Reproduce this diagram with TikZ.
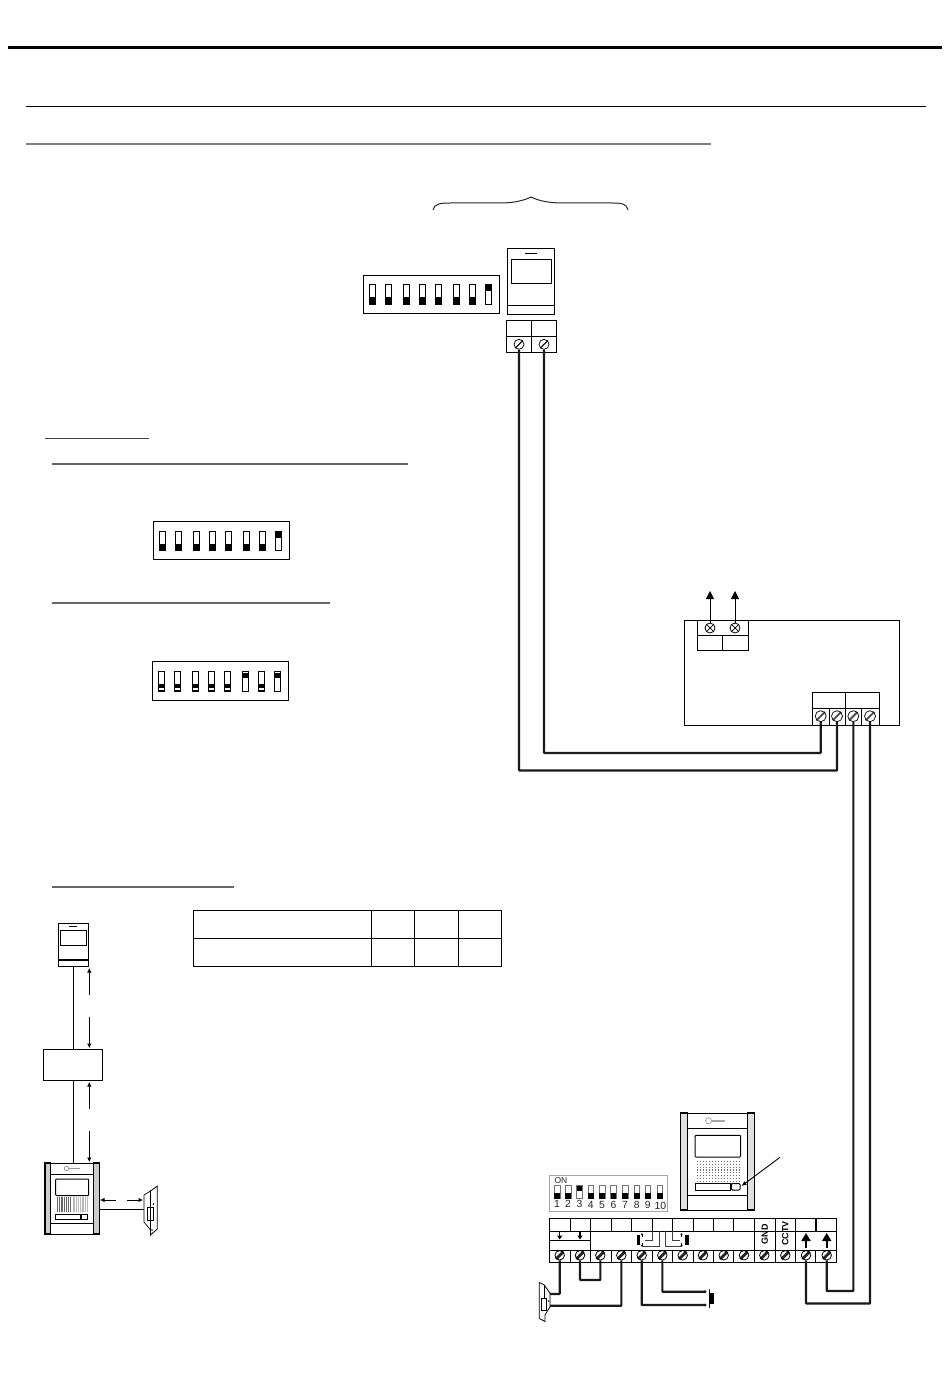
\documentclass[tikz,border=0pt]{standalone}
\usepackage{fontspec}
\setmainfont{Liberation Sans}
\setsansfont{Liberation Sans}
\usetikzlibrary{arrows.meta,calc}
\tikzset{
  wire/.style={line width=2.1pt,black!90,rounded corners=0.5pt},
  thin box/.style={draw,line width=1pt},
  rule/.style={line width=1pt,black!75},
  flow/.style={line width=0.8pt,-{Latex[length=4.5pt,width=4.5pt]}},
  big arrow/.style={line width=1.8pt,-{Triangle[length=8pt,width=9pt]}},
  screwa/.style={circle,draw,line width=0.7pt,minimum size=10pt,inner sep=0pt,
    append after command={\pgfextra{\draw[line width=1pt] (\tikzlastnode.south west)--(\tikzlastnode.north east);}}},
  screwb/.style={circle,draw,line width=0.8pt,minimum size=10pt,inner sep=0pt,
    append after command={\pgfextra{\draw[line width=.7pt] (\tikzlastnode.south west)--(\tikzlastnode.north east);\draw[line width=.7pt] (\tikzlastnode.south east)--(\tikzlastnode.north west);}}},
  screwc/.style={circle,draw,line width=0.8pt,minimum size=9.5pt,inner sep=0pt,
    append after command={\pgfextra{\draw[line width=2.8pt,black!85] (\tikzlastnode.south west)--(\tikzlastnode.north east);}}},
  screwd/.style={circle,draw,line width=0.7pt,minimum size=11pt,inner sep=0pt,
    append after command={\pgfextra{\draw[line width=1.8pt,black!70] (\tikzlastnode.south west)--(\tikzlastnode.north east);}}},
}
\newcommand{\dipswitch}[5]{% left top switchTop height onlist
  \foreach \dx [count=\i] in {5.7,21.7,39.7,55.7,71.7,89.7,105.7,121.7}{
    \pgfmathsetmacro{\sx}{#1+\dx}
    \draw[line width=.9pt] (\sx,#3) rectangle ++(6.8,#4);
    \def\ison{0}
    \foreach \k in {#5}{\ifnum\k=\i\global\def\ison{1}\fi}
    \ifnum\ison=1
      \fill (\sx,#3) rectangle ++(6.8,7);
    \else
      \fill (\sx,#3+#4) rectangle ++(6.8,-7);
    \fi
  }
}
\begin{document}
\begin{tikzpicture}[x=1pt,y=-1pt,every node/.style={font=\sffamily}]
\useasboundingbox (0,0) rectangle (950,1388);
\fill[white] (0,0) rectangle (950,1388);

% rules
\draw[line width=3pt] (8,48)--(942,48);
\draw[line width=1pt] (26,106.5)--(926,106.5);
\draw[line width=2pt,black!50] (26,144.5)--(711,144.5);
\draw[rule] (45,438.5)--(149,438.5);
\draw[line width=1.6pt,black!60] (52,464)--(408,464);
\draw[line width=1.6pt,black!60] (52,603)--(330,603);
\draw[line width=1.6pt,black!60] (52,887)--(234,887);

% brace
\draw[line width=1pt,black!85] (433,210) .. controls (434,204) and (440,203) .. (450,203)
  -- (500,203) .. controls (515,203) and (525,200) .. (531,197)
  .. controls (537,200) and (547,203) .. (562,203) -- (612,203)
  .. controls (622,203) and (627,204) .. (628,210);

% dip 1
\node[thin box,minimum width=136pt,minimum height=38.5pt,inner sep=0pt] (dipA) at (431,294.5) {};
\dipswitch{363.3}{275}{284}{20}{8}

% monitor
\node[thin box,minimum width=46.5pt,minimum height=65pt,inner sep=0pt] (monA) at (531.2,281.5) {};
\draw[line width=1pt] (511,259) rectangle (551.5,283);
\draw[line width=1pt] (525,253.5)--(537,253.5);
\draw[line width=1.8pt] (508,305.5)--(554.5,305.5);

% terminal block on monitor
\draw[line width=1pt] (506,320) rectangle (556.5,352);
\draw[line width=1pt] (506,336)--(556.5,336) (531.3,320)--(531.3,352);
\node[screwa] (mA) at (519,344.3) {};
\node[screwa] (mB) at (544,344.3) {};

% dip 2 and 3
\node[thin box,minimum width=136pt,minimum height=38pt,inner sep=0pt] (dipB) at (221.3,540) {};
\dipswitch{153.3}{521}{531}{19.5}{8}
\node[thin box,minimum width=136pt,minimum height=38.5pt,inner sep=0pt] (dipC) at (220.3,680.8) {};
\dipswitch{152.3}{662}{671}{20}{6,8}
\foreach \dx in {5.7,21.7,39.7,55.7,71.7,105.7}{
  \fill[white] (152.3+\dx+.6,688.2) rectangle ++(5.6,1.7);}
\foreach \dx in {89.7,121.7}{
  \fill[white] (152.3+\dx+.6,671.6) rectangle ++(5.6,1.2);}

% distributor box
\node[thin box,minimum width=215pt,minimum height=105pt,inner sep=0pt] (dist) at (791.5,672.5) {};
\draw[line width=1pt] (697,620) rectangle (748,650);
\draw[line width=1pt] (697,635)--(748,635) (722.3,635)--(722.3,650);
\node[screwb] (dU) at (710,628) {};
\node[screwb] (dV) at (735,628) {};
\coordinate (dUt) at (710,591);
\coordinate (dVt) at (735,591);
\draw[line width=1pt,-{Triangle[length=8pt,width=8pt]}] (dU.north)--(dUt);
\draw[line width=1pt,-{Triangle[length=8pt,width=8pt]}] (dV.north)--(dVt);
\draw[line width=1pt] (812,692) rectangle (879,725);
\draw[line width=1pt] (812,708)--(879,708) (845.3,692)--(845.3,725) (829,708)--(829,725) (861,708)--(861,725);
\node[screwd] (dA) at (820.7,716.2) {};
\node[screwd] (dB) at (837,716.2) {};
\node[screwd] (dC) at (853.3,716.2) {};
\node[screwd] (dD) at (870,716.2) {};

% table
\draw[line width=1pt] (193,910.5) rectangle (501,966);
\draw[line width=1pt] (193,938)--(501,938) (371,910.5)--(371,966) (414,910.5)--(414,966) (458,910.5)--(458,966);

% small monitor
\node[thin box,minimum width=30.4pt,minimum height=43pt,inner sep=0pt] (monB) at (73.5,944.5) {};
\draw[line width=.9pt] (60.3,930) rectangle (86.7,945);
\draw[line width=.9pt] (69,926)--(77,926);
\draw[line width=1.2pt] (58.3,960)--(88.7,960);

% small box
\node[thin box,minimum width=59pt,minimum height=31.7pt,inner sep=0pt] (sbox) at (73,1065) {};

% small door station
\node[thin box,minimum width=54.5pt,minimum height=71pt,inner sep=0pt] (stA) at (72,1198.5) {};
\draw[line width=1.2pt,fill=black!20] (44.9,1163) rectangle (50.3,1234);
\draw[line width=1.2pt,fill=black!20] (93.5,1163) rectangle (99.1,1234);
\draw[line width=.8pt] (50.3,1174)--(93.5,1174) (50.3,1223)--(93.5,1223);
\draw[line width=1pt,rounded corners=.8pt] (55.7,1179) rectangle (88.7,1195.5);
\foreach \xx in {57,58.8,...,71}{\fill[black!60] (\xx,1197) rectangle ++(.9,14.5);}
\foreach \xx in {72.5,74.3,...,88}{\fill[black!28] (\xx,1197) rectangle ++(.9,14.5);}
\draw[line width=.9pt] (55.7,1214) rectangle (87.7,1219.5);
\draw[line width=1.8pt] (81,1214)--(81,1219.5);
\node[circle,draw=black!55,line width=.5pt,minimum size=4.5pt,inner sep=0pt] (logoA) at (66.5,1168.5) {};
\draw[line width=1.5pt,black!40] (logoA.east)--++(11,0);

% small lock
\coordinate (lkA) at (144,1209);
\draw[line width=.7pt,fill=white] (144,1195)--(150.5,1191)--(150.5,1230)--(144,1222)--cycle;
\draw[line width=.8pt,fill=white] (150.5,1191)--(157.3,1186)--(157.3,1229)--(150.5,1235)--cycle;
\draw[line width=.8pt] (147,1207) rectangle (153.5,1220);
\fill (153.5,1204) circle (.9pt) (152,1230) circle (.8pt);

% schematic links
\draw[line width=1pt] (monB.south)--(monB.south |- sbox.north);
\draw[line width=1pt] (sbox.south)--(sbox.south |- stA.north);
\draw[line width=1pt] (stA.east |- lkA)--(lkA);
\coordinate (aA) at (89.3,995); \coordinate (aAe) at (89.3,968);
\coordinate (aB) at (89.3,1017); \coordinate (aBe) at (89.3,1048);
\coordinate (aC) at (89.3,1109); \coordinate (aCe) at (89.3,1082);
\coordinate (aD) at (89.3,1131); \coordinate (aDe) at (89.3,1162);
\coordinate (aE) at (116,1200); \coordinate (aEe) at (100,1200);
\coordinate (aF) at (127,1200); \coordinate (aFe) at (143,1200);
\foreach \p/\q in {aA/aAe,aB/aBe,aC/aCe,aD/aDe,aE/aEe,aF/aFe}{\draw[flow] (\p)--(\q);}

% large door station
\node[thin box,minimum width=73.6pt,minimum height=97pt,inner sep=0pt] (stB) at (717.5,1161.5) {};
\draw[line width=1.2pt,fill=black!12] (680.7,1113) rectangle (687.3,1210);
\draw[line width=1.2pt,fill=black!12] (747.7,1113) rectangle (754.3,1210);
\draw[line width=.9pt] (687.3,1128)--(747.7,1128) (687.3,1195.7)--(747.7,1195.7);
\draw[line width=1pt,rounded corners=1pt] (695,1135.3) rectangle (740.7,1157);
\foreach \yy in {1161,1163.8,...,1181}{
  \foreach \xx in {697,700,...,739}{\fill[black!55] (\xx,\yy) rectangle ++(1.1,1.1);}}
\draw[line width=1pt] (695,1183.5) rectangle (730,1190);
\draw[line width=1pt,rounded corners=1pt] (731.3,1183.5) rectangle (740,1190);
\node[circle,draw=black!45,line width=.6pt,minimum size=6pt,inner sep=0pt] (logoC) at (708.5,1120.7) {};
\draw[line width=2pt,black!35] (logoC.east)--++(13.5,0);
\coordinate (ptr) at (780,1157.3);
\draw[line width=.9pt,-{Latex[length=5pt,width=4.5pt]}] (ptr)--(741.5,1186);

% 10-way DIP
\node[draw=black!35,line width=1pt,minimum width=118pt,minimum height=36pt,inner sep=0pt] (dipD) at (608.3,1193) {};
\node[inner sep=0pt,text=black!85] (onlbl) at (561,1180.3) {\fontsize{8.5pt}{9pt}\selectfont ON};
\foreach \lx/\ny [count=\i] in {554.3/1204,565.3/1204,576.7/1203.5,588/1205,599.3/1205,610.7/1205,622.3/1204.8,634/1204.5,645/1204.8,657/1205.5}{
  \draw[line width=.7pt,black!55] (\lx,1185.5) rectangle ++(5.6,13);
  \ifnum\i=3
    \fill (\lx,1186) rectangle ++(5.6,4.5);
  \else
    \fill (\lx,1193) rectangle ++(5.6,5.5);
  \fi
  \node[inner sep=0pt,text=black!85] (n\i) at (\lx+2.8,\ny) {\fontsize{10.4pt}{10pt}\selectfont\ifnum\i=10 \hspace{1pt}\fi\i};
}

% main terminal block
\draw[line width=1pt] (549.3,1218.3) rectangle (836.3,1262);
\draw[line width=1pt] (549.3,1231.3)--(836.3,1231.3) (549.3,1250)--(836.3,1250);
\draw[line width=1pt] (549.3,1240.3)--(590.3,1240.3);
\foreach \xx in {570.3,590.3,611.3,631.3,652.3,672.3,693.3,713.3,733.3,754,775.3,795.7,815.7}{
  \draw[line width=1pt] (\xx,1218.3)--(\xx,1231.3);
  \draw[line width=1pt] (\xx,1250)--(\xx,1262);
}
\draw[line width=1pt] (590.3,1231.3)--(590.3,1250);
\draw[line width=1pt] (754.3,1231.3)--(754.3,1250) (775.3,1231.3)--(775.3,1250) (795.7,1231.3)--(795.7,1250);
\draw[line width=2pt] (815.7,1218.3)--(815.7,1231.3);
\foreach \xx/\nm in {559.7/t1,580/t2,600.3/t3,621.3/t4,641.7/t5,662.3/t6,682.7/t7,703/t8,723.7/t9,744/t10,764.3/t11,785.3/t12,806/t13,826.7/t14}{
  \node[screwc] (\nm) at (\xx,1255.3) {};
}
% small arrows in the block
\foreach \xx in {559.7,580}{
  \draw[line width=1.2pt,-{Triangle[length=4pt,width=5pt]}] (\xx,1232)--(\xx,1239.5);
}
\draw[big arrow] (806,1248)--(806,1233);
\draw[big arrow] (826.7,1248)--(826.7,1233);
\node[rotate=90,inner sep=0pt] (gnd) at (764.7,1234) {\fontsize{9pt}{9pt}\selectfont\bfseries GND};
\node[rotate=90,inner sep=0pt] (cctv) at (785.3,1233.7) {\fontsize{9pt}{9pt}\selectfont\bfseries CCTV};
% button symbols
\fill (636.5,1234.5) rectangle (639.8,1245);
\fill (684.5,1234.5) rectangle (688.5,1245);
\draw[line width=.9pt,-{Latex[length=2pt,width=2.5pt]}] (642,1237)--(642,1233);
\draw[line width=.9pt,-{Latex[length=2pt,width=2.5pt]}] (642,1243)--(642,1247);
\draw[line width=.9pt,-{Latex[length=2pt,width=2.5pt]}] (681.5,1237)--(681.5,1233);
\draw[line width=.9pt,-{Latex[length=2pt,width=2.5pt]}] (681.5,1243)--(681.5,1247);
\draw[line width=.9pt,black!75] (642,1246)--(659,1246)--(659,1231.3) (652.7,1231.3)--(652.7,1240.3)--(645,1240.3);
\draw[line width=.9pt,black!75] (681.5,1246)--(665.7,1246)--(665.7,1231.3) (672.3,1231.3)--(672.3,1240.3)--(680,1240.3);

% bottom lock
\draw[line width=.8pt,fill=white] (539.3,1282.5)--(544.3,1285)--(550,1293.3)--(550,1306.7)--(545,1315)--(545,1321.5)--(539.3,1318.5)--cycle;
\draw[line width=.7pt] (544.3,1285)--(544.3,1298);
\draw[line width=.8pt,fill=white] (541,1298.3) rectangle (546.7,1310);
\fill (548.7,1301) circle (.8pt);
\coordinate (lkB) at (550,1294);
\coordinate (lkC) at (550,1305.7);

% bell push
\coordinate (pb1) at (705,1291.7);
\coordinate (pb2) at (705,1305);
\draw[line width=.6pt,fill=white] (pb1) circle (1.1pt) (pb2) circle (1.1pt);
\draw[line width=.9pt] (709.5,1289)--(709.5,1307.5);
\fill (710,1293) rectangle (714.3,1304);

% wires
\draw[wire] (mA.south)--(mA.south |- 0,770.5)-|(dB.south);
\draw[wire] (mB.south)--(mB.south |- 0,753)-|(dA.south);
\draw[wire] (dC.south)--(dC.south |- 0,1291)-|(t14.south);
\draw[wire] (dD.south)--(dD.south |- 0,1303.5)-|(t13.south);
\draw[wire] (t2.south)--(t2.south |- 0,1280)-|(t3.south);
\draw[wire] (lkB)-|(t1.south);
\draw[wire] (lkC)-|(t4.south);
\draw[wire] (t5.south)|-(pb2);
\draw[wire] (t6.south)|-(pb1);
\end{tikzpicture}
\end{document}
